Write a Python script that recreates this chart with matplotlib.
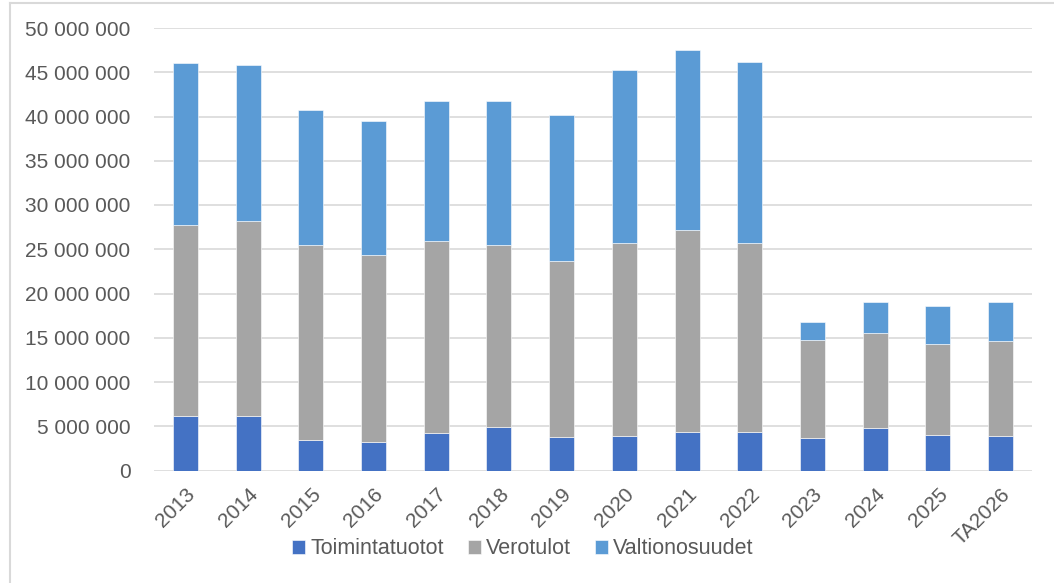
import numpy as np
import matplotlib.pyplot as plt
from matplotlib.lines import Line2D
from matplotlib.ticker import FuncFormatter

years = ['2013', '2014', '2015', '2016', '2017', '2018', '2019',
         '2020', '2021', '2022', '2023', '2024', '2025', 'TA2026']
toimintatuotot = [6.15, 6.2, 3.5, 3.2, 4.2, 4.95, 3.8, 3.9, 4.4, 4.4, 3.7, 4.8, 4.0, 3.9]
verotulot = [21.55, 22.0, 22.0, 21.1, 21.7, 20.55, 19.9, 21.8, 22.8, 21.3, 11.1, 10.7, 10.3, 10.7]
valtionosuudet = [18.4, 17.6, 15.2, 15.2, 15.8, 16.2, 16.5, 19.5, 20.3, 20.5, 2.0, 3.5, 4.3, 4.4]

toim = np.array(toimintatuotot) * 1e6
vero = np.array(verotulot) * 1e6
valt = np.array(valtionosuudet) * 1e6

plt.rcParams['font.family'] = ['Liberation Sans', 'DejaVu Sans']

W, H = 1054, 583
fig = plt.figure(figsize=(W / 100, H / 100), dpi=100)
ax = fig.add_axes([154 / W, 1 - 470.5 / H, (1032 - 154) / W, (470.5 - 28) / H])

x = np.arange(len(years))
w = 0.4
ax.bar(x, toim, w, color='#4472C4', edgecolor='white', linewidth=0.4, label='Toimintatuotot', zorder=3)
ax.bar(x, vero, w, bottom=toim, color='#A5A5A5', edgecolor='white', linewidth=0.4, label='Verotulot', zorder=3)
ax.bar(x, valt, w, bottom=toim + vero, color='#5B9BD5', edgecolor='white', linewidth=0.4, label='Valtionosuudet', zorder=3)

ax.set_xlim(-0.5, len(years) - 0.5)
ax.set_ylim(0, 50e6)
ax.set_yticks(np.arange(0, 50e6 + 1, 5e6))
ax.yaxis.set_major_formatter(FuncFormatter(lambda v, p: f'{int(v):,}'.replace(',', ' ')))
ax.grid(axis='y', color='#D9D9D9', linewidth=1.2, zorder=0)
for s in ax.spines.values():
    s.set_visible(False)
ax.tick_params(length=0, labelsize=15, colors='#595959')
ax.tick_params(axis='y', pad=17)
ax.set_xticks(x)
ax.set_xticklabels(years, rotation=45, ha='right', rotation_mode='anchor')
ax.tick_params(axis='x', pad=10)

ax.legend(loc='center', bbox_to_anchor=(0.42, -0.177), ncol=3, frameon=False,
          fontsize=15.5, labelcolor='#595959', handlelength=0.6, handleheight=0.6,
          handletextpad=0.25, columnspacing=1.1, borderpad=0)

# chart frame: only top and left edges are visible in the crop
fig.add_artist(Line2D([10 / W, 1], [1 - 3 / H, 1 - 3 / H], transform=fig.transFigure,
                      color='#D9D9D9', linewidth=1.5))
fig.add_artist(Line2D([10 / W, 10 / W], [0, 1 - 3 / H], transform=fig.transFigure,
                      color='#D9D9D9', linewidth=1.5))

fig.savefig('out.png', dpi=100)
